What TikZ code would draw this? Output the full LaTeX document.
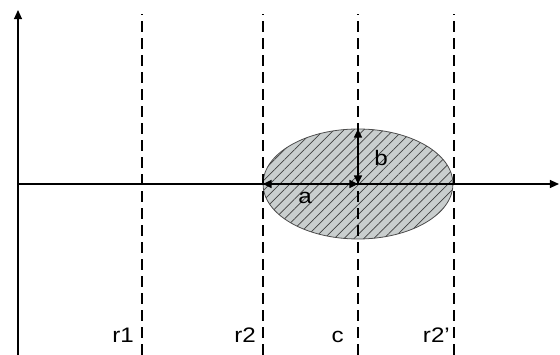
\documentclass[tikz,border=0pt]{standalone}
\usepackage{fontspec}
\setmainfont{Liberation Sans}
\usetikzlibrary{positioning,arrows.meta,patterns.meta}
\definecolor{shadegray}{HTML}{C9CECE}
\newcommand{\widetext}[1]{\scalebox{1.15}[1]{#1}}

\begin{document}
\begin{tikzpicture}[x=1pt, y=1pt,
    axis/.style={-{Triangle[length=3.2mm, width=2.8mm]}, line width=1.3pt},
    guide/.style={dashed, dash pattern=on 11pt off 6pt, line width=1.2pt},
    lbl/.style={font=\fontsize{21}{24}\selectfont, inner sep=0pt},
    dim/.style={{Triangle[length=3mm, width=2.8mm]}-{Triangle[length=3mm, width=2.8mm]}, line width=1.3pt}]
  \useasboundingbox (0,0) rectangle (560,355);
  \coordinate (o) at (18,171);
  \coordinate (ytop) at (18,345);
  \coordinate (xend) at (559,171);
  \coordinate (ybot) at (18,0);
  % shaded ellipse
  \fill[shadegray] (358,171) ellipse [x radius=95, y radius=55];
  \fill[pattern={Lines[angle=45, distance=7pt, line width=0.7pt]}, pattern color=black!75] (358,171) ellipse [x radius=95, y radius=55];
  \draw[line width=0.8pt, black!70] (358,171) ellipse [x radius=95, y radius=55];
  \coordinate (ctr) at (358,171);
  \coordinate (left) at (263,171);
  \coordinate (top) at (358,226);
  % dashed guides
  \foreach \x/\n/\t/\e in {142/r1/r1/134, 263/r2/r2/256, 358/c/c/344, 454/r2p/r2'/450} {
    \coordinate (\n bot) at (\x,0);
    \coordinate (\n top) at (\x,341);
    \draw[guide] (\n bot) -- (\n top);
    \node[lbl, anchor=base east] (\n) at (\e,12) {\widetext{\t}};
  }
  % axes
  \draw[axis] (ybot) -- (ytop);
  \draw[axis] (o) -- (xend);
  % semi axes
  \draw[dim] (left) -- (ctr);
  \draw[dim] (ctr) -- (top);
  \node[lbl] (a) at (305,157) {\widetext{a}};
  \node[lbl] (b) at (381,197) {\widetext{b}};
\end{tikzpicture}
\end{document}
